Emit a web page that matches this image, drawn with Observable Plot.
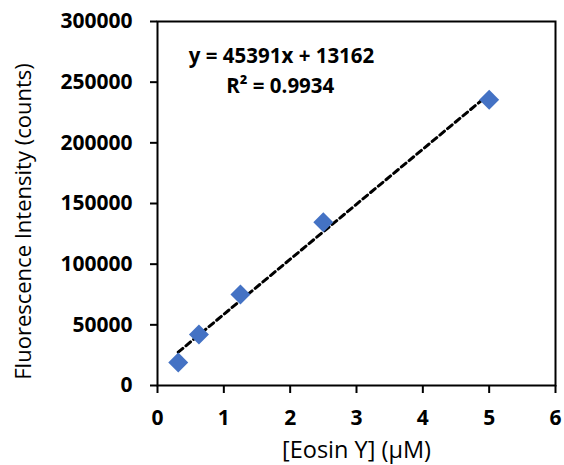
<!DOCTYPE html>
<html><head><meta charset="utf-8">
<script src="https://cdn.jsdelivr.net/npm/d3@7"></script>
<script src="https://cdn.jsdelivr.net/npm/@observablehq/plot@0.6"></script>
<style>body{margin:0;background:#fff}</style>
</head><body><div id="chart"></div>
<script>
const conc = [0.3125, 0.625, 1.25, 2.5, 5];
const intensity = [19000, 42000, 75000, 134500, 235500];
const xTicks = [0, 1, 2, 3, 4, 5, 6];
const yTicks = [0, 50000, 100000, 150000, 200000, 250000, 300000];
const equation = "y = 45391x + 13162";
const rSquared = "R² = 0.9934";
const xTitle = "[Eosin Y] (\u03BCM)";
const yTitle = "Fluorescence Intensity (counts)";

const data = conc.map((c, i) => ({x: c, y: intensity[i]}));
const font = "'Open Sans', sans-serif";

const chart = Plot.plot({
  width: 564, height: 465,
  marginLeft: 157, marginRight: 9, marginTop: 21, marginBottom: 80,
  style: {fontFamily: font, background: "#fff", color: "#000"},
  x: {domain: [0, 6]},
  y: {domain: [0, 300000]},
  marks: [
    Plot.axisX({ticks: xTicks, tickSize: 8, tickPadding: 17, strokeWidth: 2, fontSize: 21, fontWeight: "bold", label: null, tickFormat: d3.format("d")}),
    Plot.axisY({ticks: yTicks, tickSize: 7, tickPadding: 18, strokeWidth: 2, fontSize: 21, fontWeight: "bold", label: null, tickFormat: d3.format("d")}),
    Plot.frame({stroke: "#000", strokeWidth: 2}),
    Plot.linearRegressionY(data, {x: "x", y: "y", ci: 0, stroke: "#000", strokeWidth: 3, strokeDasharray: "6,4"}),
    Plot.dot(data, {x: "x", y: "y", symbol: "diamond2", r: 9, fill: "#4472C4", stroke: "none"}),
    Plot.text([equation], {x: 1.87, y: 271000, text: d => d, fontSize: 20.5, fontWeight: "bold", fill: "#000"}),
    Plot.text([rSquared], {x: 1.85, y: 246600, text: d => d, fontSize: 20.5, fontWeight: "bold", fill: "#000"}),
    Plot.text([xTitle], {frameAnchor: "bottom", dy: 72, text: d => d, fontSize: 23.5, fill: "#000"}),
    Plot.text([yTitle], {frameAnchor: "left", textAnchor: "middle", dx: -134, dy: 18, rotate: -90, text: d => d, fontSize: 22, fill: "#000"})
  ]
});
document.getElementById("chart").appendChild(chart);
</script>
</body></html>
